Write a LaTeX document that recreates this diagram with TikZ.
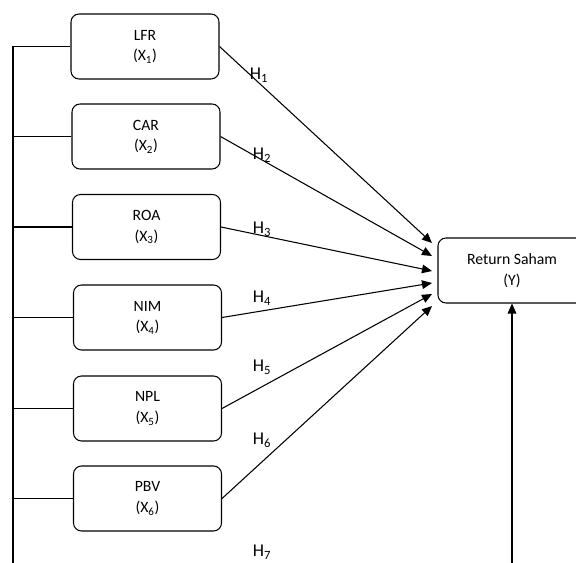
\documentclass[tikz,border=0pt]{standalone}
\usepackage{fontspec}
\setmainfont{Carlito}
\usetikzlibrary{positioning,arrows.meta}

\begin{document}
\begin{tikzpicture}[x=0.75pt,y=-0.75pt,line width=0.8pt,
  var/.style={draw,rounded corners=6pt,minimum width=111pt,minimum height=48.75pt,
    align=center,font=\fontsize{11.8}{15.5}\selectfont},
  hyp/.style={font=\fontsize{13.5}{15}\selectfont},
  link/.style={-{Triangle[length=7.5pt,width=6.5pt]}}]

\useasboundingbox (0,0) rectangle (576,563);
\clip (0,0) rectangle (576,563);

% independent variables
\node[var] (lfr) at (145,46.5) {LFR\\(X\textsubscript{1})};
\node[var] (car) at (146,136.5) {CAR\\(X\textsubscript{2})};
\node[var] (roa) at (146.5,227) {ROA\\(X\textsubscript{3})};
\node[var] (nim) at (147.5,317.5) {NIM\\(X\textsubscript{4})};
\node[var] (npl) at (147.5,408.5) {NPL\\(X\textsubscript{5})};
\node[var] (pbv) at (147.5,498.5) {PBV\\(X\textsubscript{6})};

% dependent variable
\node[var] (ret) at (512,270.5) {Return Saham\\(Y)};

% arrow ends at Y
\coordinate (t1) at (432,243);
\coordinate (t2) at (432,256);
\coordinate (t3) at (432,271);
\coordinate (t4) at (432,283);
\coordinate (t5) at (432,294);
\coordinate (t6) at (432,306);

\draw[link] (lfr.east) -- (t1);
\draw[link] (car.east) -- (t2);
\draw[link] (roa.east) -- (t3);
\draw[link] (nim.east) -- (t4);
\draw[link] (npl.east) -- (t5);
\draw[link] (pbv.east) -- (t6);

% simultaneous path
\coordinate (top) at (13,46.5);
\coordinate (bot) at (13,563);
\coordinate (base) at (512,563);
\draw (bot) -- (top) -- (lfr.west);
\draw (car.west) -- (car.west -| top);
\draw (roa.west) -- (roa.west -| top);
\draw (nim.west) -- (nim.west -| top);
\draw (npl.west) -- (npl.west -| top);
\draw (pbv.west) -- (pbv.west -| top);
\draw[link] (base) -- (ret.south);

% hypotheses
\node[hyp] (h1) at (259,75) {H\textsubscript{1}};
\node[hyp] (h2) at (262,155) {H\textsubscript{2}};
\node[hyp] (h3) at (262,229) {H\textsubscript{3}};
\node[hyp] (h4) at (262,298) {H\textsubscript{4}};
\node[hyp] (h5) at (262,367) {H\textsubscript{5}};
\node[hyp] (h6) at (262,440) {H\textsubscript{6}};
\node[hyp] (h7) at (262,552) {H\textsubscript{7}};

\end{tikzpicture}
\end{document}
